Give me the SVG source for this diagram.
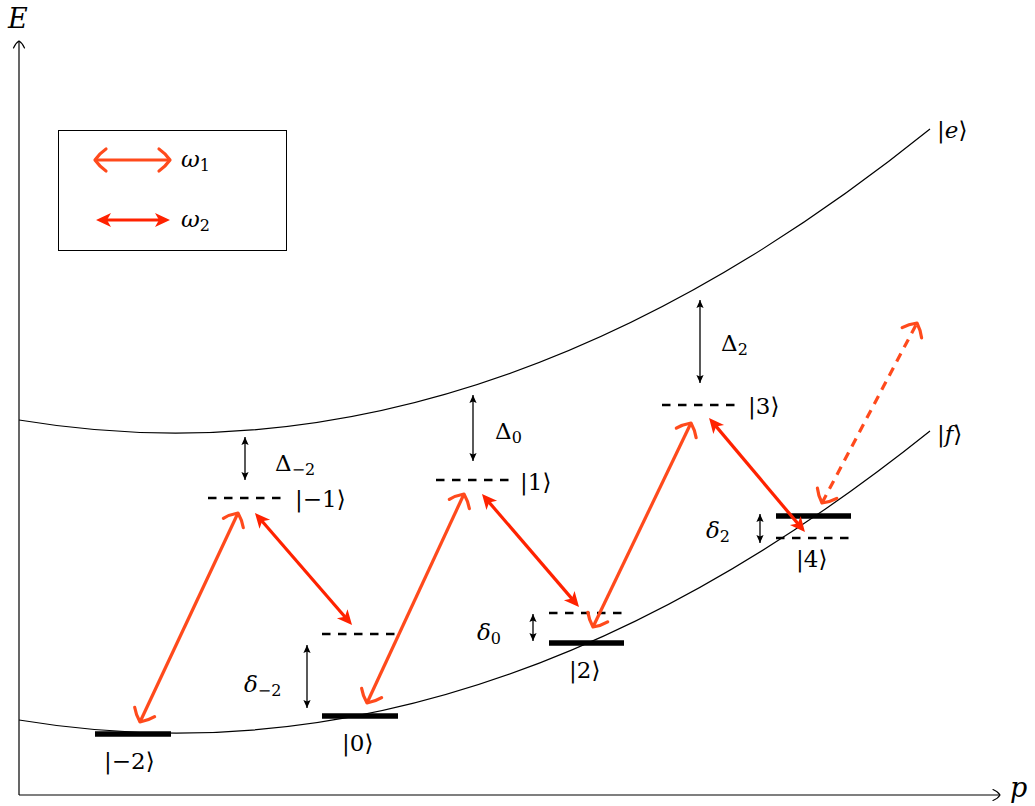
<svg xmlns="http://www.w3.org/2000/svg" width="1035" height="806" viewBox="0 0 1035 806">
<style>
text{font-family:"DejaVu Serif","Liberation Serif",serif;font-size:23px;fill:#000}
.it{font-style:italic}
.big{font-size:27px}
.sub{font-size:16px}
.axis{stroke:#000;stroke-width:1.2;fill:none}
.curve{stroke:#000;stroke-width:1.2;fill:none}
.bar{stroke:#000;stroke-width:5.5;fill:none}
.dash{stroke:#000;stroke-width:2.6;fill:none;stroke-dasharray:8.5 7.5}
.w1{stroke:#FF4A1C;stroke-width:3.2;fill:none;marker-start:url(#to1);marker-end:url(#to1)}
.w1d{stroke-dasharray:9 7}
.w2{stroke:#FF2200;stroke-width:3.2;fill:none;marker-start:url(#st2);marker-end:url(#st2)}
.det{stroke:#000;stroke-width:1.3;fill:none;marker-start:url(#lx);marker-end:url(#lx)}
</style>
<defs>
<marker id="to1" markerUnits="userSpaceOnUse" markerWidth="30" markerHeight="30" viewBox="-15 -15 30 30" refX="0" refY="0" orient="auto-start-reverse" overflow="visible">
<path d="M-11,-11 Q-5,-7 0,0 Q-5,7 -11,11" fill="none" stroke="#FF4A1C" stroke-width="3.2" stroke-linecap="round" stroke-linejoin="round"/>
</marker>
<marker id="st2" markerUnits="userSpaceOnUse" markerWidth="30" markerHeight="30" viewBox="-15 -15 30 30" refX="0" refY="0" orient="auto-start-reverse" overflow="visible">
<path d="M8,0 L-7,-7 L-3,0 L-7,7 Z" fill="#FF2200"/>
</marker>
<marker id="lx" markerUnits="userSpaceOnUse" markerWidth="20" markerHeight="20" viewBox="-10 -10 20 20" refX="0" refY="0" orient="auto-start-reverse" overflow="visible">
<path d="M0,0 L-8,-3.6 L-6.5,0 L-8,3.6 Z" fill="#000"/>
</marker>
<marker id="ax" markerUnits="userSpaceOnUse" markerWidth="20" markerHeight="20" viewBox="-10 -10 20 20" refX="0" refY="0" orient="auto" overflow="visible">
<path d="M-7,-5.5 Q-2,-3.5 0,0 Q-2,3.5 -7,5.5" fill="none" stroke="#000" stroke-width="1.2" stroke-linecap="round"/>
</marker>
</defs>
<rect width="1035" height="806" fill="#fff"/>

<g id="axes">
<line class="axis" x1="19" y1="795" x2="19" y2="41" marker-end="url(#ax)"/>
<line class="axis" x1="19" y1="795" x2="1000" y2="795" marker-end="url(#ax)"/>
<text class="it big" x="8" y="28">E</text>
<text class="it big" x="1010" y="797">p</text>
</g>

<g id="curve-e">
<path class="curve" d="M19,420 Q474.5,496.2 930,129"/>
<text x="937" y="138"><tspan>|</tspan><tspan class="it">e</tspan><tspan>⟩</tspan></text>
</g>
<g id="curve-f">
<path class="curve" d="M19,720 Q474.5,796.2 930,431"/>
<text x="937" y="442"><tspan>|</tspan><tspan class="it">f</tspan><tspan>⟩</tspan></text>
</g>

<g id="legend">
<rect x="58.5" y="130.5" width="228" height="120" fill="none" stroke="#000" stroke-width="1"/>
<line class="w1" x1="95" y1="160" x2="170" y2="160"/>
<text class="it" x="181" y="167">ω<tspan class="sub" font-style="normal" dy="4">1</tspan></text>
<line class="w2" x1="104" y1="220" x2="162" y2="220"/>
<text class="it" x="181" y="227">ω<tspan class="sub" font-style="normal" dy="4">2</tspan></text>
</g>

<g id="level-m2">
<line class="bar" x1="95" y1="734" x2="171" y2="734"/>
<text x="104" y="769">|−2⟩</text>
</g>
<g id="level-m1">
<line class="dash" x1="208" y1="498" x2="282" y2="498"/>
<text x="295" y="507">|−1⟩</text>
<line class="det" x1="245" y1="437" x2="245" y2="480"/>
<text x="275" y="471">Δ<tspan class="sub" dy="4">−2</tspan></text>
</g>
<g id="level-0">
<line class="bar" x1="322" y1="716" x2="398" y2="716"/>
<line class="dash" x1="322" y1="634" x2="398" y2="634"/>
<text x="342" y="751">|0⟩</text>
<line class="det" x1="307" y1="645" x2="307" y2="708"/>
<text class="it" x="244" y="692">δ<tspan class="sub" font-style="normal" dy="4">−2</tspan></text>
</g>
<g id="level-1">
<line class="dash" x1="436" y1="480" x2="510" y2="480"/>
<text x="520" y="490">|1⟩</text>
<line class="det" x1="473" y1="395" x2="473" y2="461"/>
<text x="495" y="439">Δ<tspan class="sub" dy="4">0</tspan></text>
</g>
<g id="level-2">
<line class="bar" x1="549" y1="643" x2="624" y2="643"/>
<line class="dash" x1="549" y1="613" x2="624" y2="613"/>
<text x="569" y="678">|2⟩</text>
<line class="det" x1="533" y1="614" x2="533" y2="641"/>
<text class="it" x="477" y="640">δ<tspan class="sub" font-style="normal" dy="4">0</tspan></text>
</g>
<g id="level-3">
<line class="dash" x1="662" y1="405" x2="736" y2="405"/>
<text x="748" y="414">|3⟩</text>
<line class="det" x1="700" y1="300" x2="700" y2="383"/>
<text x="721" y="351">Δ<tspan class="sub" dy="4">2</tspan></text>
</g>
<g id="level-4">
<line class="bar" x1="776" y1="516" x2="851" y2="516"/>
<line class="dash" x1="776" y1="538" x2="851" y2="538"/>
<text x="796" y="567">|4⟩</text>
<line class="det" x1="760" y1="514" x2="760" y2="543"/>
<text class="it" x="706" y="538">δ<tspan class="sub" font-style="normal" dy="4">2</tspan></text>
</g>

<g id="connectors">
<line class="w1" x1="140" y1="722" x2="238" y2="513"/>
<line class="w1" x1="367" y1="703" x2="464" y2="494"/>
<line class="w1" x1="593" y1="627" x2="691" y2="423"/>
<line class="w1 w1d" x1="822" y1="503" x2="917" y2="323"/>
<line class="w2" x1="260.2" y1="519" x2="346.8" y2="619"/>
<line class="w2" x1="487.2" y1="500.1" x2="573.8" y2="600.9"/>
<line class="w2" x1="714.2" y1="424.1" x2="799.8" y2="525.9"/>
</g>
</svg>
